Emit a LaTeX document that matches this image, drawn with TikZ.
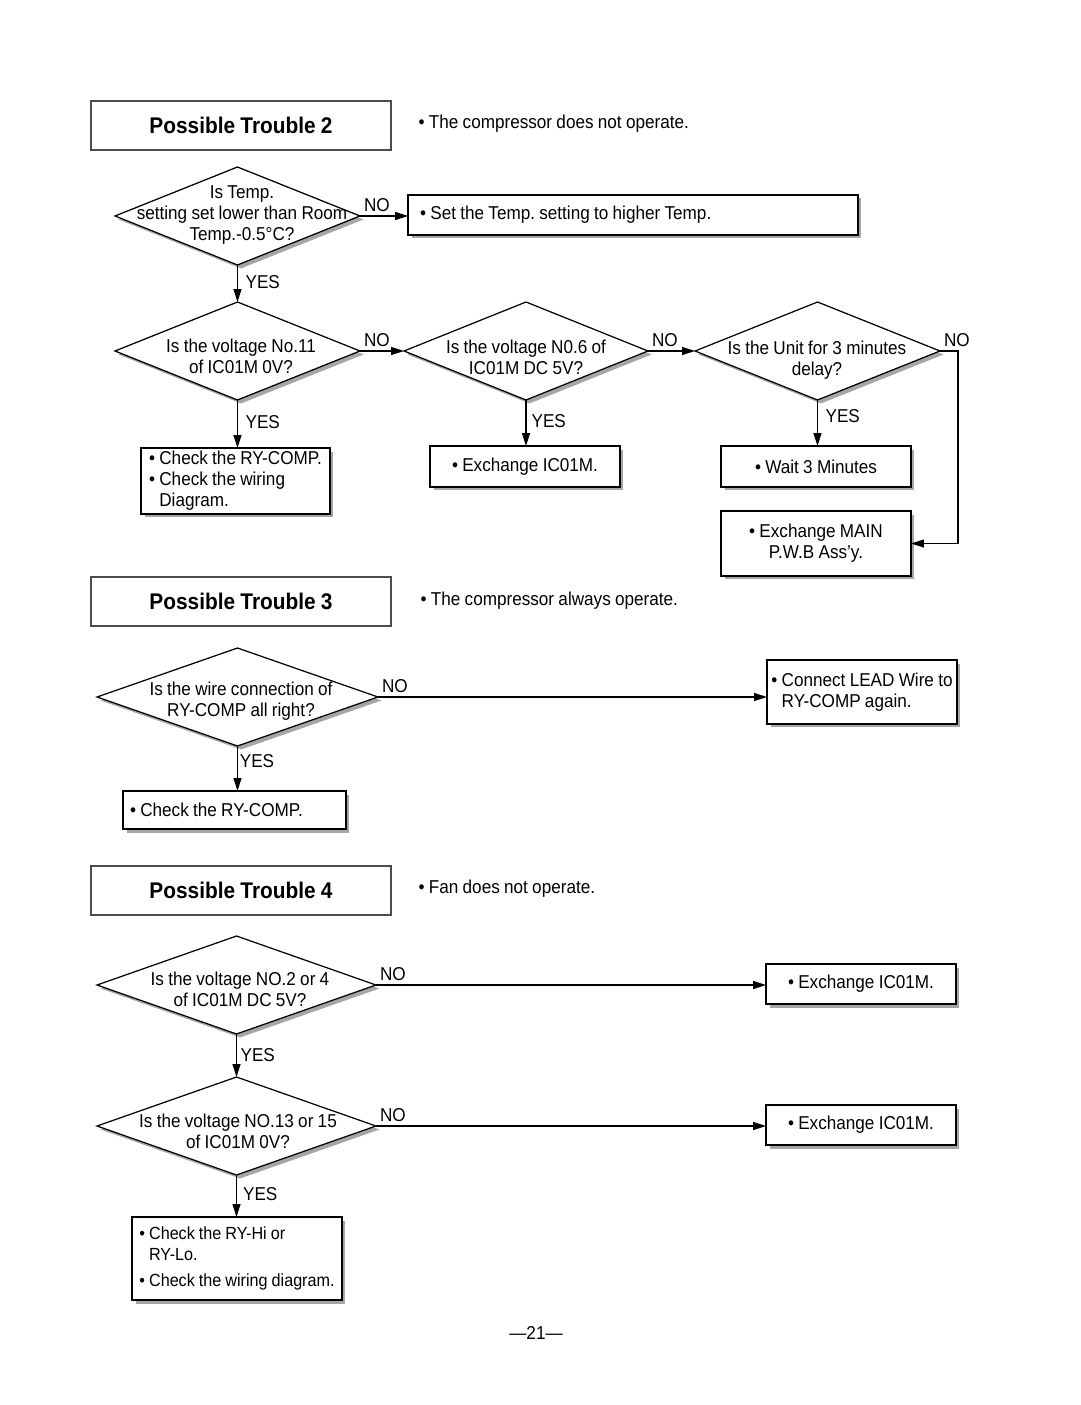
\documentclass[tikz,border=0pt]{standalone}
\usepackage{fontspec}
\setmainfont[FakeStretch=0.92, WordSpace=0.9]{Liberation Sans}
\usetikzlibrary{shapes.geometric, shadows, arrows.meta}

\tikzset{
  boxshadow/.style={drop shadow={shadow xshift=0.07cm, shadow yshift=-0.07cm, fill=black!35, opacity=1}},
  question/.style={diamond, draw, fill=white, boxshadow, inner sep=0pt, outer sep=0pt, minimum height=1.96cm},
  qtext/.style={align=center, inner sep=0pt},
  box/.style={rectangle, draw, fill=white, boxshadow, inner xsep=0.12cm, inner ysep=0pt, outer sep=0pt, align=flush left},
  trouble/.style={rectangle, draw=black!70, minimum width=6cm, minimum height=0.98cm,
    font=\fontsize{12.9}{15}\selectfont\bfseries},
  note/.style={anchor=west, inner sep=0pt},
  flow/.style={-{Triangle[length=0.26cm, width=0.16cm]}},
  nolabel/.style={pos=0, above right, inner sep=2pt},
  yeslabel/.style={pos=0.45, right, inner sep=0.15cm},
}

\begin{document}
\frenchspacing
\begin{tikzpicture}[x=0.02cm, y=-0.02cm, line width=0.7pt, font=\fontsize{10.6}{12}\selectfont]

\path[use as bounding box, fill=white] (0,0) rectangle (1080,1405);

% Possible Trouble 2
\node[trouble] (pt2) at (241,125.5) {Possible Trouble 2};
\node[note] (pt2d) at (418,124) {\textbullet\ The compressor does not operate.};

\node[question, minimum width=4.9cm] (q1) at (237.5,216) {};
\node[qtext] (q1t) at (242,215) {Is Temp.\\setting set lower than Room\\Temp.-0.5°C?};
\node[box, minimum width=9cm, minimum height=0.8cm, inner xsep=0.24cm, text width=8.52cm] (b1) at (633,215)
  {\textbullet\ Set the Temp. setting to higher Temp.};

\node[question, minimum width=4.9cm] (q2) at (237.5,351) {};
\node[qtext] (q2t) at (241,356) {Is the voltage No.11\\of IC01M 0V?};
\node[question, minimum width=4.88cm] (q3) at (526,351) {};
\node[qtext] (q3t) at (526,357) {Is the voltage N0.6 of\\IC01M DC 5V?};
\node[question, minimum width=4.9cm] (q4) at (817.5,351) {};
\node[qtext] (q4t) at (817,360) {Is the Unit for 3 minutes\\delay?};

\node[box, minimum width=3.78cm, minimum height=1.32cm] (b2) at (235.5,481)
  {\textbullet\ Check the RY-COMP.\\\textbullet\ Check the wiring\\\phantom{\textbullet\ }Diagram.};
\node[box, minimum width=3.8cm, minimum height=0.82cm] (b3) at (525,466.5) {\textbullet\ Exchange IC01M.};
\node[box, minimum width=3.8cm, minimum height=0.82cm] (b4) at (816,466.5) {\textbullet\ Wait 3 Minutes};
\node[box, minimum width=3.8cm, minimum height=1.3cm, align=center] (b5) at (816,543.5)
  {\textbullet\ Exchange MAIN\\P.W.B Ass'y.};

\draw[flow] (q1.east) -- node[nolabel] (no1) {NO} (q1.east -| b1.west);
\draw[flow] (q1.south) -- node[yeslabel] (yes1) {YES} (q2.north);
\draw[flow] (q2.east) -- node[nolabel] (no2) {NO} (q3.west);
\draw[flow] (q3.east) -- node[nolabel] (no3) {NO} (q4.west);
\draw[flow] (q4.east) -- node[nolabel] (no4) {NO} ++(18,0) |- (b5.east);
\draw[flow] (q2.south) -- node[yeslabel] (yes2) {YES} (q2.south |- b2.north);
\draw[flow] (q3.south) -- node[yeslabel, inner sep=0.1cm] (yes3) {YES} (q3.south |- b3.north);
\draw[flow] (q4.south) -- node[yeslabel, pos=0.35] (yes4) {YES} (q4.south |- b4.north);

% Possible Trouble 3
\node[trouble] (pt3) at (241,601.5) {Possible Trouble 3};
\node[note] (pt3d) at (420,601) {\textbullet\ The compressor always operate.};

\node[question, minimum width=5.62cm] (q5) at (237.5,697) {};
\node[qtext] (q5t) at (241,701) {Is the wire connection of\\RY-COMP all right?};
\node[box, minimum width=3.8cm, minimum height=1.28cm, inner xsep=0.08cm] (b6) at (862,692)
  {\textbullet\ Connect LEAD Wire to\\\phantom{\textbullet\ }RY-COMP again.};
\node[box, minimum width=4.46cm, minimum height=0.76cm, inner xsep=0.14cm, text width=4.18cm] (b7) at (234.5,810)
  {\textbullet\ Check the RY-COMP.};

\draw[flow] (q5.east) -- node[nolabel] (no5) {NO} (q5.east -| b6.west);
\draw[flow] (q5.south) -- node[yeslabel, pos=0.34, inner sep=1pt] (yes5) {YES} (q5.south |- b7.north);

% Possible Trouble 4
\node[trouble] (pt4) at (241,890.5) {Possible Trouble 4};
\node[note] (pt4d) at (418,889) {\textbullet\ Fan does not operate.};

\node[question, minimum width=5.58cm] (q6) at (236.5,985) {};
\node[qtext] (q6t) at (240,989) {Is the voltage NO.2 or 4\\of IC01M DC 5V?};
\node[question, minimum width=5.58cm] (q7) at (236.5,1126) {};
\node[qtext] (q7t) at (238,1131) {Is the voltage NO.13 or 15\\of IC01M 0V?};
\node[box, minimum width=3.8cm, minimum height=0.8cm] (b8) at (861,984) {\textbullet\ Exchange IC01M.};
\node[box, minimum width=3.8cm, minimum height=0.8cm] (b9) at (861,1125) {\textbullet\ Exchange IC01M.};
\node[box, minimum width=4.2cm, minimum height=1.66cm, inner xsep=0.1cm, font=\fontsize{10}{12}\selectfont] (b10) at (237,1258.5)
  {\textbullet\ Check the RY-Hi or\\\phantom{\textbullet\ }RY-Lo.\\[3pt]\textbullet\ Check the wiring diagram.};

\draw[flow] (q6.east) -- node[nolabel] (no6) {NO} (q6.east -| b8.west);
\draw[flow] (q6.south) -- node[yeslabel, pos=0.49, inner sep=2pt] (yes6) {YES} (q7.north);
\draw[flow] (q7.east) -- node[nolabel] (no7) {NO} (q7.east -| b9.west);
\draw[flow] (q7.south) -- node[yeslabel, pos=0.46, inner sep=0.12cm] (yes7) {YES} (q7.south |- b10.north);

\node (page) at (536,1333) {—21—};

\end{tikzpicture}
\end{document}
